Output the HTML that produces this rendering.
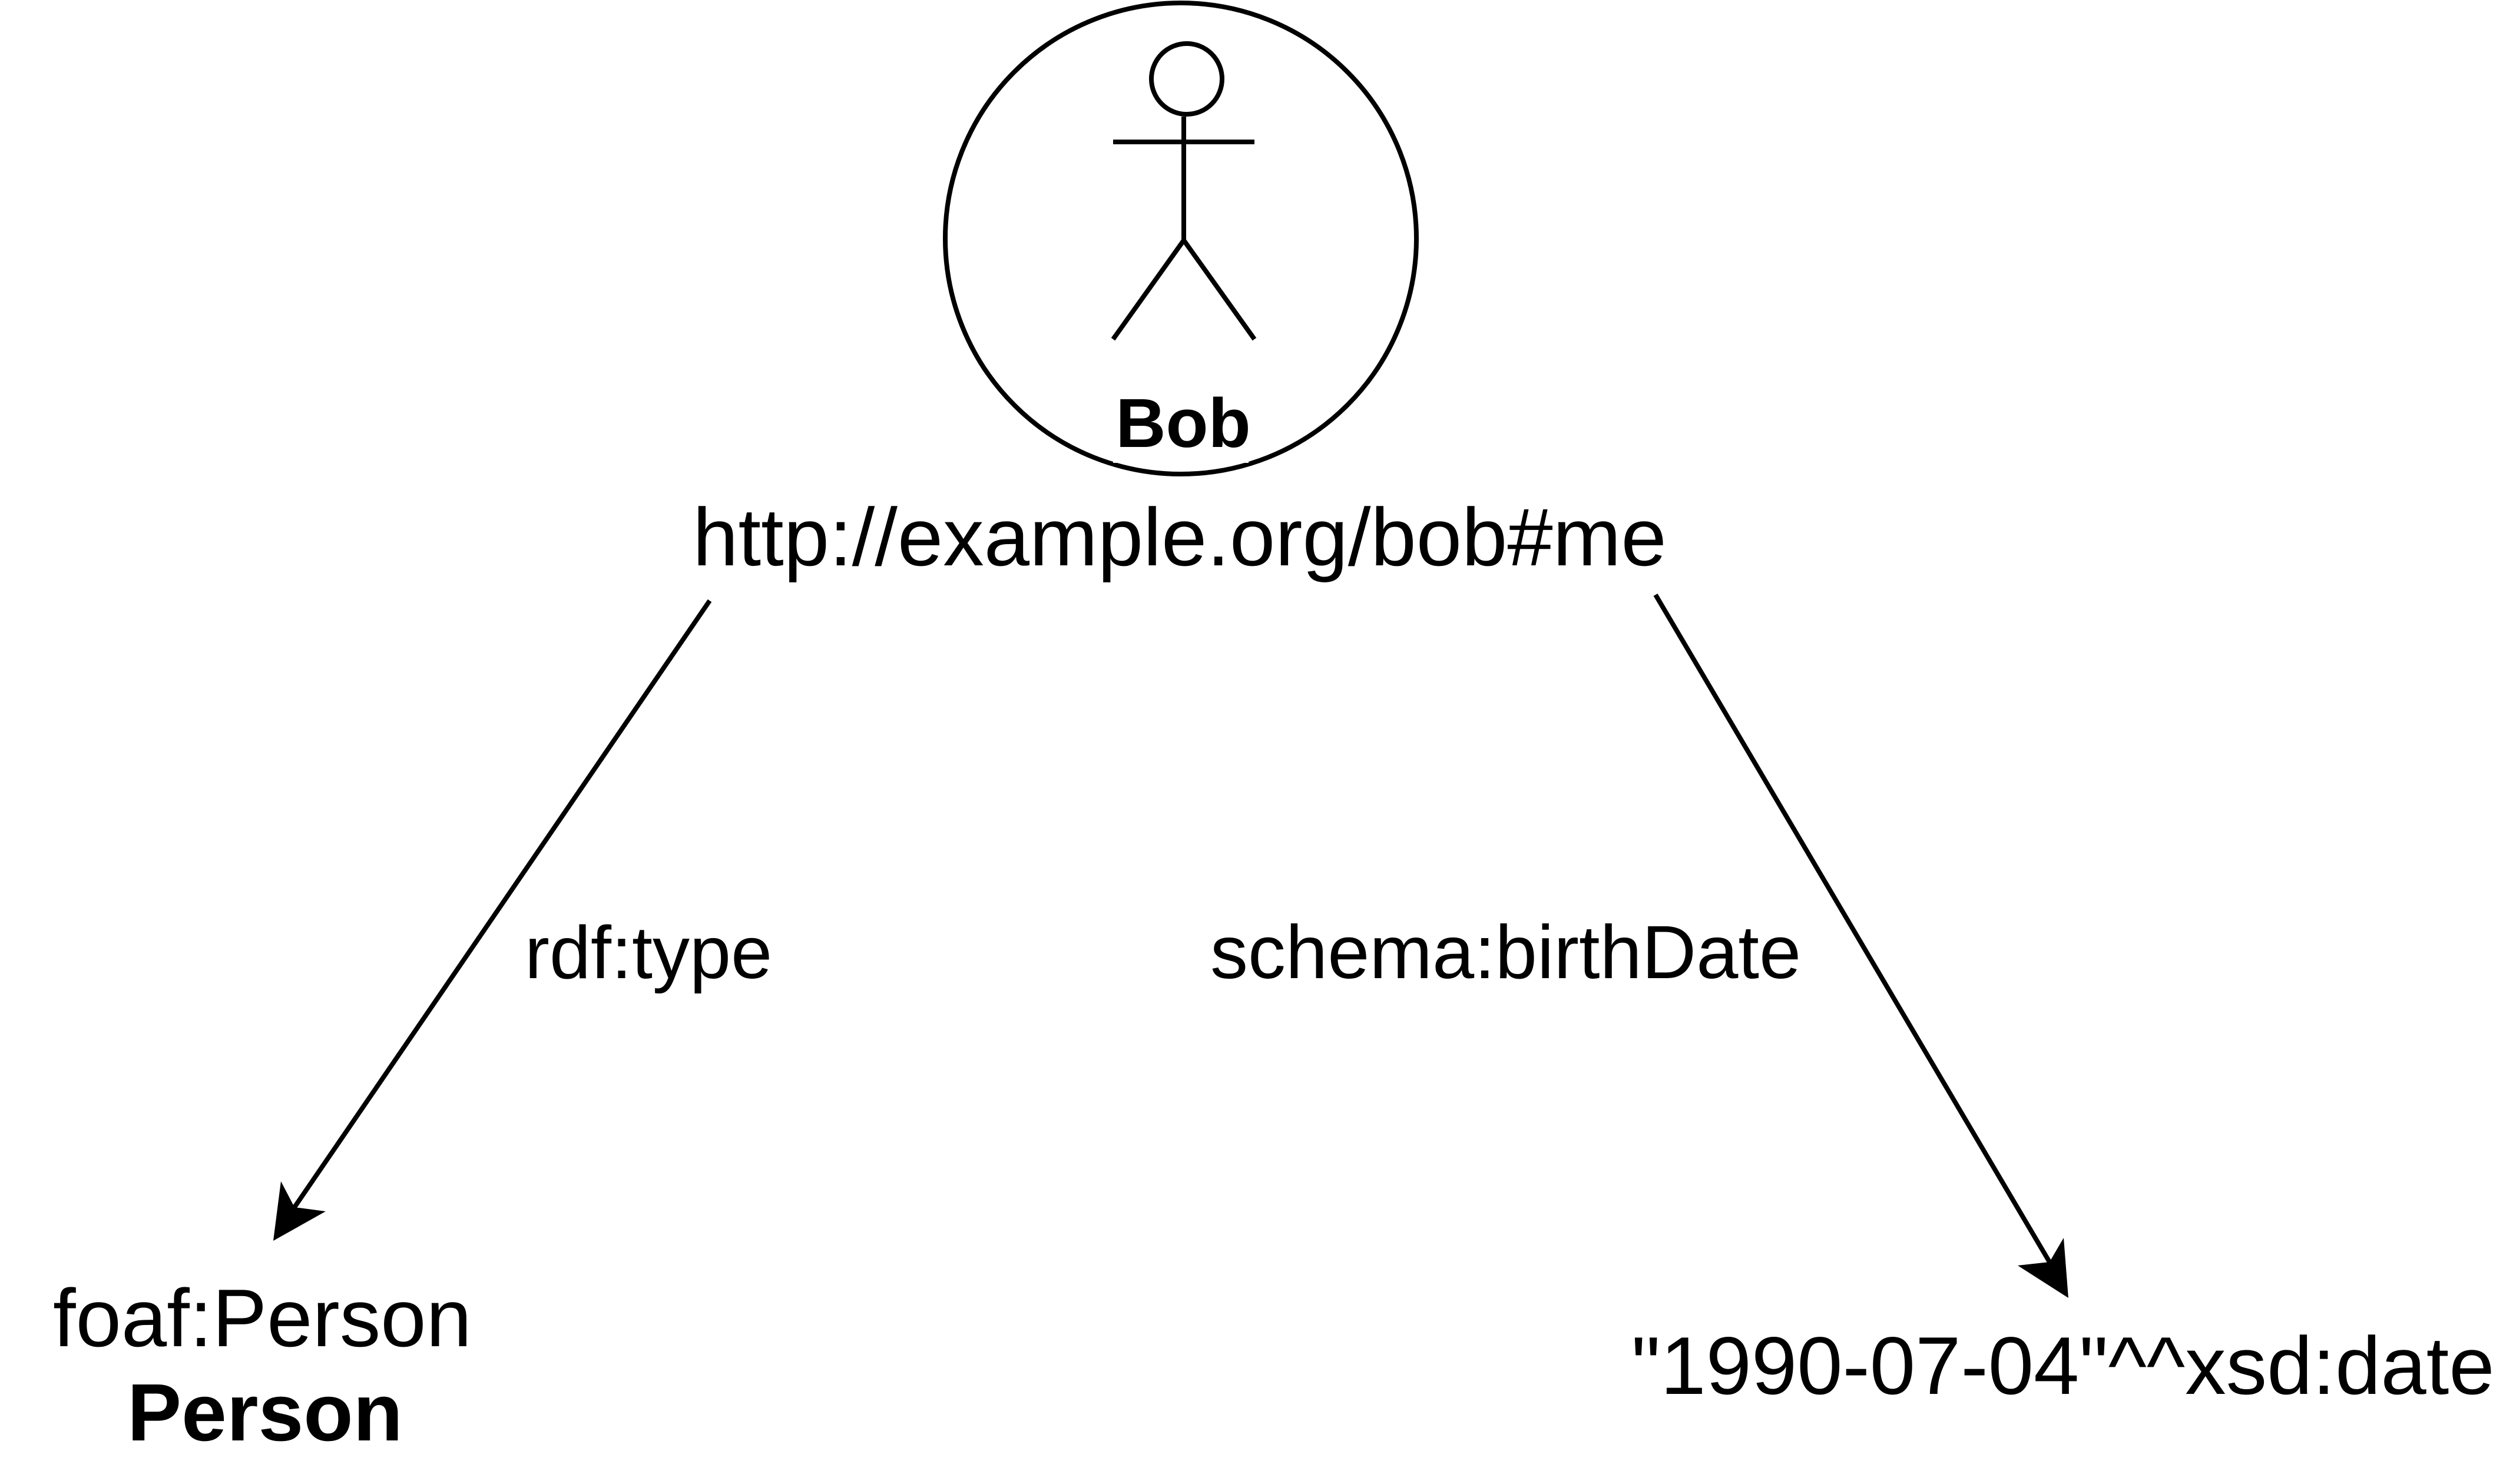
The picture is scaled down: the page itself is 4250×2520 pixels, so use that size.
<!DOCTYPE html>
<html><head><meta charset="utf-8"><style>html,body{margin:0;padding:0;background:#fff;}svg{display:block;}</style></head>
<body>
<svg width="4250" height="2520" viewBox="0 0 4250 2520" xmlns="http://www.w3.org/2000/svg">
<rect width="4250" height="2520" fill="#fff"/>
<circle cx="2005" cy="405" r="400" fill="none" stroke="#000" stroke-width="8"/>
<rect x="1890" y="700" width="230" height="86" fill="#fff"/>
<g fill="none" stroke="#000" stroke-width="8">
<circle cx="2015" cy="134" r="60"/>
<line x1="2010" y1="198" x2="2010" y2="408"/>
<line x1="1890" y1="241" x2="2130" y2="241"/>
<line x1="2010" y1="408" x2="1890" y2="576"/>
<line x1="2010" y1="408" x2="2130" y2="576"/>
</g>
<g font-family="Liberation Sans, Arial, sans-serif" fill="#000">
<text x="2009" y="759" font-size="118" font-weight="bold" text-anchor="middle">Bob</text>
<text x="2003" y="960" font-size="139" text-anchor="middle">http://example.org/bob#me</text>
<text x="891" y="1661" font-size="126">rdf:type</text>
<text x="2055" y="1661" font-size="128">schema:birthDate</text>
<text x="90" y="2286" font-size="139">foaf:Person</text>
<text x="450" y="2446" font-size="138" font-weight="bold" text-anchor="middle">Person</text>
<text x="2770" y="2367" font-size="139">"1990-07-04"^^xsd:date</text>
</g>
<g stroke="#000" stroke-width="8">
<line x1="1205" y1="1020" x2="500" y2="2050"/>
<line x1="2811" y1="1010" x2="3480" y2="2143"/>
</g>
<polygon points="464,2107 477,2006 500,2050 553,2057" fill="#000"/>
<polygon points="3512,2204 3504,2102 3480,2143 3426,2149" fill="#000"/>
</svg>
</body></html>
